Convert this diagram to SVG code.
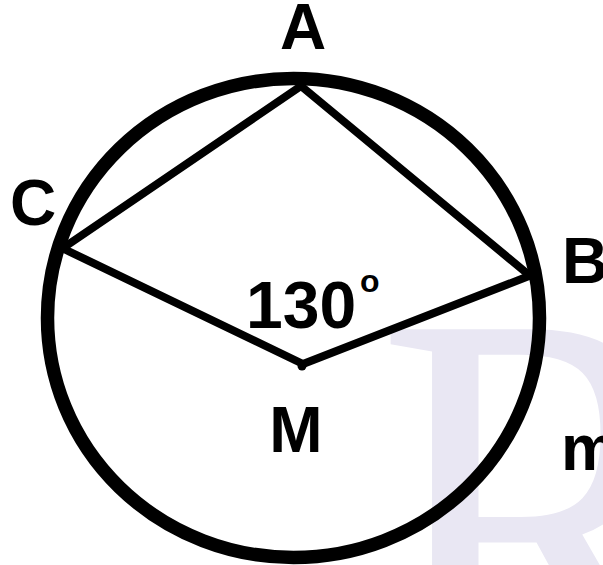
<svg xmlns="http://www.w3.org/2000/svg" width="603" height="565" viewBox="0 0 603 565">
<style>
.lbl{font-family:"Liberation Sans",Arial,sans-serif;font-weight:bold;fill:#000;font-size:64px}
.edge{fill:none;stroke:#000;stroke-width:8;stroke-linejoin:round;stroke-linecap:round}
</style>
<rect width="603" height="565" fill="#fff"/>
<g id="watermark">
<text x="377" y="709" transform="translate(56,0) scale(0.85,1)" font-family="'Liberation Serif','Times New Roman',serif" font-size="580" fill="#e9e7f3">R</text>
</g>
<g id="circle">
<ellipse cx="293.5" cy="318" rx="246" ry="239.5" fill="none" stroke="#000" stroke-width="13.5"/>
</g>
<g id="connectors">
<line class="edge" x1="66" y1="246" x2="301" y2="86"/>
<line class="edge" x1="301" y1="86" x2="529" y2="275"/>
<line class="edge" x1="529" y1="276" x2="303" y2="364"/>
<line class="edge" x1="64" y1="249" x2="303" y2="364"/>
</g>
<g id="node-A"><text class="lbl" x="303" y="49" text-anchor="middle">A</text></g>
<g id="node-C"><text class="lbl" x="33" y="225" text-anchor="middle">C</text></g>
<g id="node-B"><text class="lbl" x="562" y="283">B</text></g>
<g id="node-M">
<circle cx="302" cy="366" r="4.5" fill="#000"/>
<text class="lbl" x="296" y="452" text-anchor="middle">M</text>
</g>
<g id="angle-label">
<text class="lbl" x="246" y="328" style="font-size:66px">130</text>
<text class="lbl" x="360" y="292" style="font-size:32px">o</text>
</g>
<g id="text-m"><text class="lbl" x="561" y="470">m</text></g>
</svg>
